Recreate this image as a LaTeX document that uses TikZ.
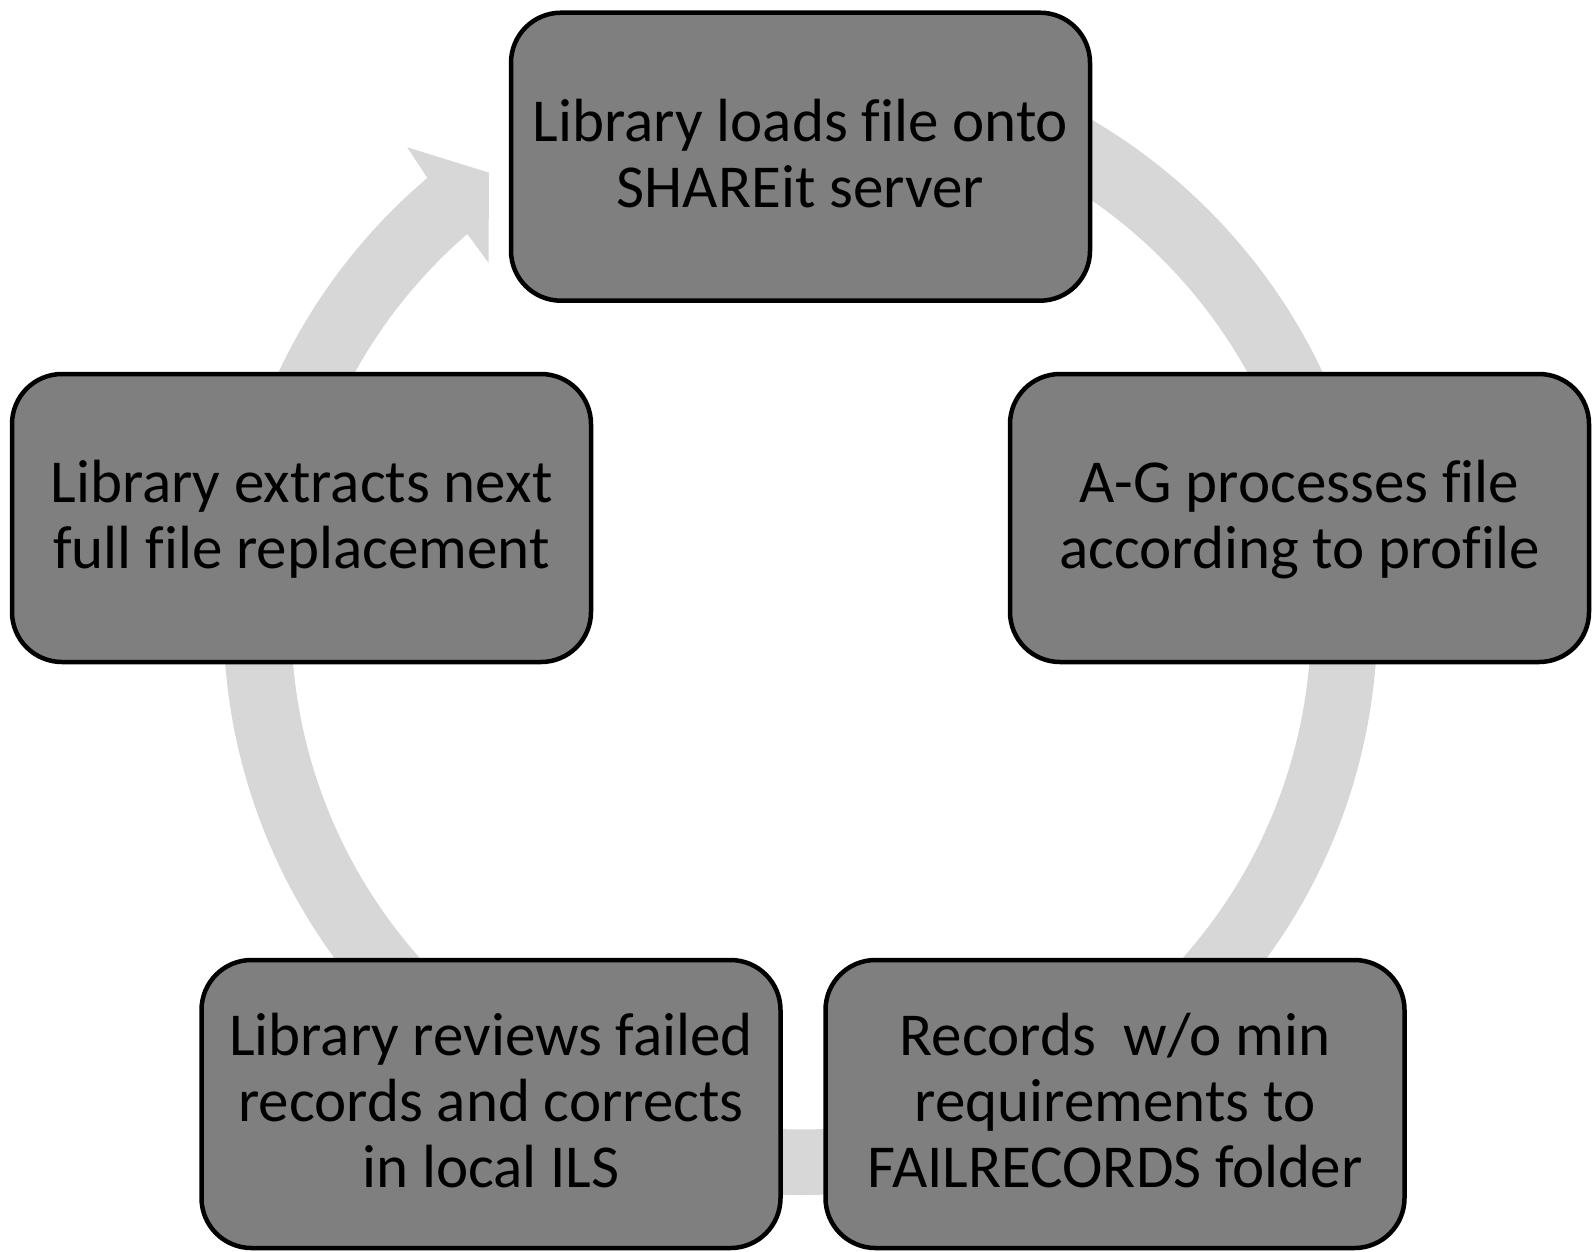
\documentclass[tikz,border=0pt]{standalone}
\usepackage{fontspec}
\setmainfont{Carlito}[Ligatures={NoCommon}]
\usetikzlibrary{calc}
\definecolor{ringfill}{RGB}{215,215,215}
\definecolor{boxgray}{RGB}{127,127,127}
\newcommand{\mystrut}{\vrule width 0pt height 45pt depth 10pt}
\tikzset{
  stepbox/.style={draw=black, line width=4.5pt, fill=boxgray, rounded corners=50pt,
    minimum width=579pt, minimum height=288pt, inner sep=0pt, align=center,
    font=\fontsize{61}{66}\selectfont, text=black},
  ringarrow/.style={fill=ringfill, draw=none}
}
\begin{document}
\begin{tikzpicture}[x=1pt,y=-1pt]
\useasboundingbox (0,0) rectangle (1593,1251);
\coordinate (C) at (800.5,618);
\coordinate (hb) at (407.3,147.3);
\coordinate (ht) at (489,172.7);
\coordinate (hi) at (488.5,262.7);
\coordinate (hs) at (467.3,234);
% circular arrow
\fill[ringarrow] ($(C)+(-85:577)$) arc[start angle=-85, end angle=229.7, radius=577]
  -- (hb) -- (ht) -- (hi) -- (hs)
  arc[start angle=229.1, end angle=-85, radius=510] -- cycle;
% boxes
\node[stepbox] (top) at (800.5,156.7) {\mystrut Library loads file onto\\\mystrut SHAREit server};
\node[stepbox] (right) at (1299.5,518) {\mystrut A-G processes file\\\mystrut according to profile};
\node[stepbox] (br) at (1115,1104) {\mystrut Records\ \ w/o min\\\mystrut requirements to\\\mystrut FAILRECORDS folder};
\node[stepbox] (bl) at (491,1104) {\mystrut Library reviews failed\\\mystrut records and corrects\\\mystrut in local ILS};
\node[stepbox] (left) at (301.5,518) {\mystrut Library extracts next\\\mystrut full file replacement};
\end{tikzpicture}
\end{document}
